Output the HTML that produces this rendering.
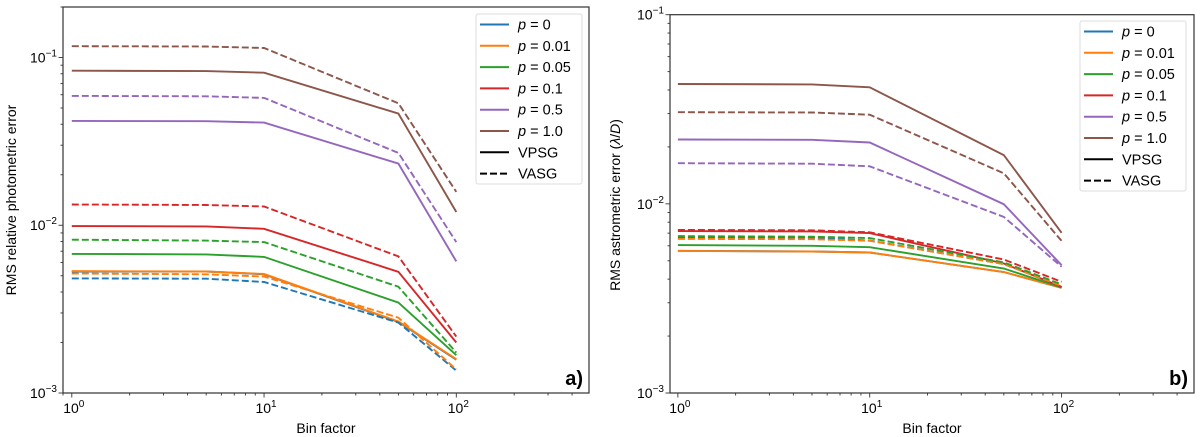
<!DOCTYPE html>
<html><head><meta charset="utf-8"><style>
html,body{margin:0;padding:0;background:#fff;}
svg{display:block;font-family:"Liberation Sans","DejaVu Sans",sans-serif;}
</style></head><body>
<svg id="chart" width="1200" height="437" viewBox="0 0 1200 437" xmlns="http://www.w3.org/2000/svg"></svg>
<script>
const binFactors = [1, 5, 10, 50, 100];
const seriesLabels = ["p = 0", "p = 0.01", "p = 0.05", "p = 0.1", "p = 0.5", "p = 1.0"];
const seriesColors = ["#1f77b4", "#ff7f0e", "#2ca02c", "#d62728", "#9467bd", "#8c564b"];
// Panel a) photometric
const photVPSG = [
  [0.0053, 0.0053, 0.0051, 0.00265, 0.00158],
  [0.00533, 0.0053, 0.00512, 0.00267, 0.00159],
  [0.00675, 0.0067, 0.00648, 0.00346, 0.00168],
  [0.00989, 0.00985, 0.00953, 0.00528, 0.0020],
  [0.0419, 0.0417, 0.0409, 0.0233, 0.00609],
  [0.0834, 0.0830, 0.0812, 0.0463, 0.0120]
];
const photVASG = [
  [0.00482, 0.0048, 0.00459, 0.00263, 0.00136],
  [0.00516, 0.0051, 0.00494, 0.00281, 0.00138],
  [0.0082, 0.0081, 0.00794, 0.0043, 0.00174],
  [0.0133, 0.0132, 0.01294, 0.00652, 0.00217],
  [0.0590, 0.0587, 0.0574, 0.0270, 0.00794],
  [0.1167, 0.1163, 0.114, 0.0533, 0.0158]
];
// Panel b) astrometric
const astVPSG = [
  [0.00565, 0.0056, 0.00553, 0.00436, 0.0036],
  [0.00564, 0.0056, 0.00553, 0.00436, 0.0036],
  [0.00605, 0.006, 0.0059, 0.00455, 0.00361],
  [0.00718, 0.00715, 0.0070, 0.00484, 0.00364],
  [0.0219, 0.0218, 0.0211, 0.00996, 0.00474],
  [0.0430, 0.0428, 0.0413, 0.0181, 0.00703]
];
const astVASG = [
  [0.0066, 0.0066, 0.0064, 0.0048, 0.00368],
  [0.00653, 0.0065, 0.00638, 0.0048, 0.00368],
  [0.00675, 0.0067, 0.00659, 0.0049, 0.00375],
  [0.00728, 0.00725, 0.00707, 0.00508, 0.00387],
  [0.0164, 0.0163, 0.0158, 0.00853, 0.00465],
  [0.0305, 0.0304, 0.0296, 0.0145, 0.00637]
];
const xTickExps = [0, 1, 2];
const yTickExps = [-3, -2, -1];

const NS = "http://www.w3.org/2000/svg";
const svg = document.getElementById("chart");
function mk(tag, attrs, parent) {
  const e = document.createElementNS(NS, tag);
  for (const k in attrs) e.setAttribute(k, attrs[k]);
  (parent || svg).appendChild(e);
  return e;
}
function powLabel(parent, x, y, exp, anchor) {
  const t = mk("text", {x: x, y: y, "font-size": 14, fill: "#000", "text-anchor": anchor}, parent);
  const a = document.createElementNS(NS, "tspan"); a.textContent = "10"; t.appendChild(a);
  const b = document.createElementNS(NS, "tspan");
  b.setAttribute("dy", -6); b.setAttribute("font-size", 10);
  b.textContent = exp < 0 ? "\u2212" + (-exp) : String(exp);
  t.appendChild(b);
  return t;
}

function panel(cfg) {
  const g = mk("g", {});
  
  
  const {L, R, T, B, xmin, xmax, ymin, ymax} = cfg;
  const X = v => L + (Math.log10(v) - Math.log10(xmin)) / (Math.log10(xmax) - Math.log10(xmin)) * (R - L);
  const Y = v => B - (Math.log10(v) - Math.log10(ymin)) / (Math.log10(ymax) - Math.log10(ymin)) * (B - T);
  const drawSet = (sets, dashed) => {
    sets.forEach((vals, i) => {
      const pts = binFactors.map((b, j) => X(b).toFixed(1) + "," + Y(vals[j]).toFixed(1)).join(" ");
      const pl = mk("polyline", {points: pts, fill: "none", stroke: seriesColors[i], "stroke-width": 1.9, "stroke-dasharray": dashed ? "7,3" : "none"}, g);
      
      
    });
  };
  drawSet(cfg.vpsg, false);
  drawSet(cfg.vasg, true);
  const fr = mk("rect", {x: L, y: T, width: R - L, height: B - T, fill: "none", stroke: "#333", "stroke-width": 1.2}, g);
  
  
  for (let e = -1; e <= 3; e++) for (let m = 1; m <= 9; m++) {
    const v = m * Math.pow(10, e);
    if (v < xmin || v > xmax) continue;
    const x = X(v);
    mk("line", {x1: x, x2: x, y1: B, y2: B + (m === 1 ? 4.5 : 2.5), stroke: "#333", "stroke-width": 0.9}, g);
  }
  xTickExps.forEach(e => {
    const t = powLabel(g, X(Math.pow(10, e)) + 2, B + 20, e, "middle");
    
    
  });
  for (let e = -4; e <= 0; e++) for (let m = 1; m <= 9; m++) {
    const v = m * Math.pow(10, e);
    if (v < ymin * 0.999 || v > ymax * 1.001) continue;
    const y = Y(v);
    mk("line", {x1: L, x2: L - (m === 1 ? 4.5 : 2.5), y1: y, y2: y, stroke: "#333", "stroke-width": 0.9}, g);
  }
  yTickExps.forEach(e => {
    const t = powLabel(g, L - 6, Y(Math.pow(10, e)) + 5, e, "end");
    
    
  });
  const xl = mk("text", {x: (L + R) / 2, y: 433, "font-size": 14, "text-anchor": "middle"}, g);
  xl.textContent = "Bin factor";
  
  
  const yl = mk("text", {x: 0, y: 0, "font-size": 14, "text-anchor": "middle", transform: `translate(${cfg.ylx},${cfg.yly}) rotate(-90)`}, g);
  yl.innerHTML = cfg.ylabel;
  
  
  const pl = mk("text", {x: R - 6, y: B - 8, "font-size": 20, "font-weight": "bold", "text-anchor": "end"}, g);
  pl.textContent = cfg.tag;
  
  
  const lg = mk("g", {}, g);
  
  
  mk("rect", {x: cfg.lx, y: cfg.ly, width: 106, height: 170, rx: 2, fill: "#fff", "fill-opacity": 0.9, stroke: "#ddd", "stroke-width": 1}, lg);
  const entries = seriesLabels.map((s, i) => ({s, c: seriesColors[i], d: false, p: true})).concat([{s: "VPSG", c: "#000", d: false}, {s: "VASG", c: "#000", d: true}]);
  entries.forEach((en, i) => {
    const y = cfg.ly + 10.5 + i * 21.3;
    const e = mk("g", {}, lg);
    
    
    mk("line", {x1: cfg.lx + 4, x2: cfg.lx + 33, y1: y, y2: y, stroke: en.c, "stroke-width": 2, "stroke-dasharray": en.d ? "7,3" : "none"}, e);
    const t = mk("text", {x: cfg.lx + 42, y: y + 5, "font-size": 14.5}, e);
    if (en.p) t.innerHTML = '<tspan font-style="italic">p</tspan>' + en.s.slice(1);
    else t.textContent = en.s;
  });
}

panel({name: "panel-a-photometric", L: 63, R: 589, T: 7, B: 393, xmin: 0.9, xmax: 490, ymin: 0.001, ymax: 0.2,
  vpsg: photVPSG, vasg: photVASG, ylabel: "RMS relative photometric error", ylx: 16, yly: 200, tag: "a)", lx: 476, ly: 14});
panel({name: "panel-b-astrometric", L: 670, R: 1194, T: 14.7, B: 393, xmin: 0.91, xmax: 490, ymin: 0.001, ymax: 0.1,
  vpsg: astVPSG, vasg: astVASG, ylabel: 'RMS astrometric error (<tspan font-style="italic">λ</tspan>/<tspan font-style="italic">D</tspan>)', ylx: 620, yly: 205, tag: "b)", lx: 1080, ly: 21});
</script>
</body></html>
